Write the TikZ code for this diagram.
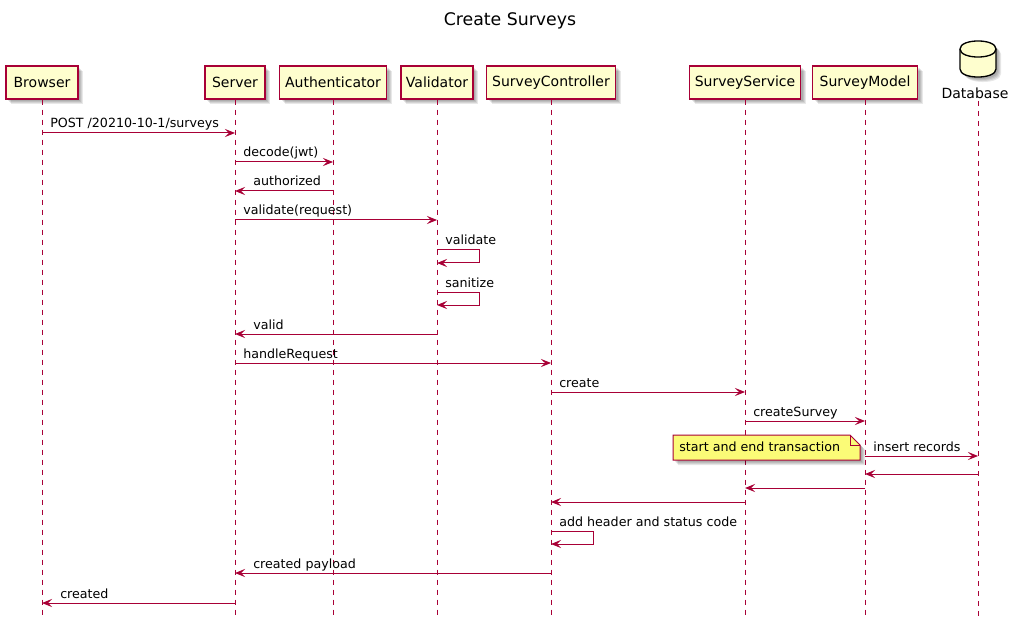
\documentclass[tikz,border=0pt]{standalone}
\usepackage{fontspec}
\setmainfont{DejaVu Sans}
\usetikzlibrary{arrows.meta}
\definecolor{pcol}{HTML}{A80036}
\definecolor{pfill}{HTML}{FEFECE}
\definecolor{nfill}{HTML}{FBFB77}
\tikzset{
  pbox/.style={draw=pcol, fill=pfill, line width=1pt, minimum height=33*0.75pt, inner sep=0pt, font=\fontsize{10.5}{12}\selectfont},
  life/.style={draw=pcol, line width=0.75pt, dash pattern=on 3.75pt off 3.75pt},
  msg/.style={draw=pcol, line width=0.75pt, -{Stealth[length=7.5pt,width=6pt,inset=3pt]}},
  lbl/.style={font=\fontsize{9.5}{11}\selectfont, inner sep=0pt, anchor=base west, text=black},
  shd/.style={fill=black, opacity=0.09},
}
\newcommand\ptcp[4]{%
  \foreach \d in {2,3,4,5}{\fill[shd] (#2-#3/2+\d,66+\d) rectangle (#2+#3/2+\d,99+\d);}
  \node[pbox, minimum width=#3*0.75pt] (#1) at (#2,82.5) {#4};
  \draw[life] (#1.south) -- (#1.south |- 0,617);
}
\newcommand\msg[5]{%
  \draw[msg] (#1 |- 0,#3) -- (#2 |- 0,#3);
  \node[lbl] (l#3) at (#4,#3-5) {#5};
}
\newcommand\selfmsg[4]{%
  \draw[msg] (#1 |- 0,#2) -- ++(42,0) -- ++(0,13) -- (#1 |- 0,#2+13);
  \node[lbl] (l#2) at (#3,#2-5) {#4};
}
\begin{document}
\begin{tikzpicture}[x=0.75pt,y=-0.75pt]
\useasboundingbox[fill=white] (0,0) rectangle (1013,627);

\node[font=\fontsize{13}{15}\selectfont] (title) at (510,21) {Create Surveys};

\ptcp{Browser}{42}{72}{Browser}
\ptcp{Server}{235}{60}{Server}
\ptcp{Authenticator}{333}{107}{Authenticator}
\ptcp{Validator}{437}{72}{Validator}
\ptcp{SurveyController}{551}{129}{SurveyController}
\ptcp{SurveyService}{745}{111}{SurveyService}
\ptcp{SurveyModel}{865}{105}{SurveyModel}

% Database
\foreach \d in {2,3,4,5}{
  \fill[shd] (960+\d,49+\d) .. controls (960+\d,38.3+\d) and (996+\d,38.3+\d) .. (996+\d,49+\d)
    -- (996+\d,69+\d) .. controls (996+\d,79.7+\d) and (960+\d,79.7+\d) .. (960+\d,69+\d) -- cycle;
}
\draw[draw=black, fill=pfill, line width=1pt] (960,49) .. controls (960,38.3) and (996,38.3) .. (996,49)
  -- (996,69) .. controls (996,79.7) and (960,79.7) .. (960,69) -- cycle;
\draw[draw=black, line width=1pt] (960,49) .. controls (960,59.7) and (996,59.7) .. (996,49);
\node[font=\fontsize{10.5}{12}\selectfont, inner sep=1pt] (Database) at (975,93) {Database};
\draw[life] (978,101) coordinate (dbtop) -- (dbtop |- 0,617) coordinate (dbbot);
\coordinate (DB) at (978,300);

% messages
\msg{Browser}{Server}{133}{50}{POST /20210-10-1/surveys}
\msg{Server}{Authenticator}{162}{243}{decode(jwt)}
\msg{Authenticator}{Server}{191}{253}{authorized}
\msg{Server}{Validator}{220}{243}{validate(request)}
\selfmsg{Validator}{250}{445}{validate}
\selfmsg{Validator}{292}{445}{sanitize}
\msg{Validator}{Server}{334}{253}{valid}
\msg{Server}{SurveyController}{363}{243}{handleRequest}
\msg{SurveyController}{SurveyService}{392}{559}{create}
\msg{SurveyService}{SurveyModel}{421}{753}{createSurvey}

% note
\foreach \d in {2,3,4,5}{
  \fill[shd] (673+\d,435+\d) -- (850+\d,435+\d) -- (860+\d,445+\d) -- (860+\d,460+\d) -- (673+\d,460+\d) -- cycle;
}
\draw[draw=pcol, fill=nfill, line width=0.75pt] (673,435) -- (850,435) -- (860,445) -- (860,460) -- (673,460) -- cycle;
\draw[draw=pcol, line width=0.75pt] (850,435) -- (850,445) -- (860,445);
\node[lbl] (note) at (679,451) {start and end transaction};

\msg{SurveyModel}{DB}{456}{873}{insert records}
\draw[msg] (DB |- 0,474) -- (SurveyModel |- 0,474);
\draw[msg] (SurveyModel |- 0,488) -- (SurveyService |- 0,488);
\draw[msg] (SurveyService |- 0,502) -- (SurveyController |- 0,502);
\selfmsg{SurveyController}{531}{559}{add header and status code}
\msg{SurveyController}{Server}{573}{253}{created payload}
\msg{Server}{Browser}{603}{60}{created}
\end{tikzpicture}
\end{document}
